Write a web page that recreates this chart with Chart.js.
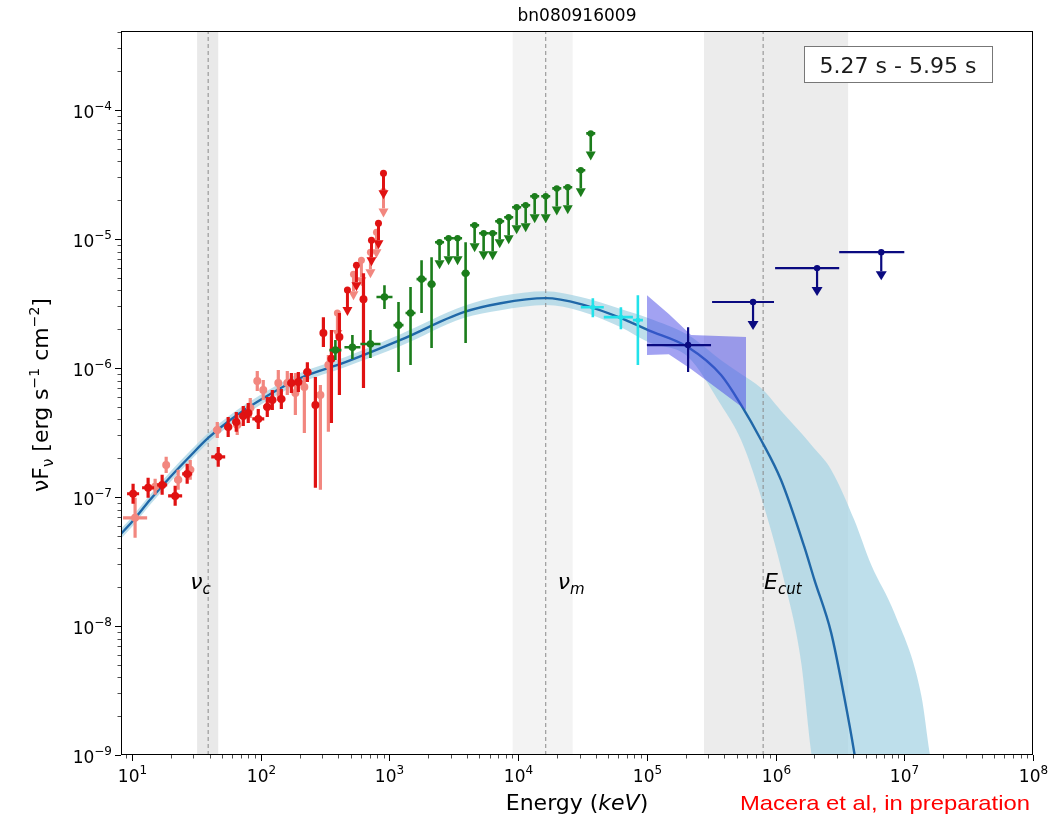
<!DOCTYPE html>
<html>
<head>
<style>
  body { margin: 0; background: #fff; }
  #wrap { width: 1057px; height: 824px; }
</style>
<script src="https://cdn.jsdelivr.net/npm/chart.js"></script>
</head>
<body>
<div id="wrap"><canvas id="sed" width="1057" height="824"></canvas></div>
<script>
// axis limits (keV / erg s^-1 cm^-2)
var xMin = 8.2, xMax = 1e8, yMin = 1e-9, yMax = 4.1e-4;

// best-fit model and its band
var modelE = [8.07, 10, 13.8, 19.8, 28.3, 39.0, 57.9, 99, 203, 455, 1219, 3770, 7310, 16370, 30650, 62800, 1.02e5, 2.09e5, 3.77e5, 5.39e5, 7.71e5, 1.10e6, 1.67e6, 2.0e6, 2.70e6, 3.41e6, 4.08e6, 4.63e6];
var modelF = [5.10e-8, 6.43e-8, 9.51e-8, 1.43e-7, 2.08e-7, 2.87e-7, 3.96e-7, 5.65e-7, 8.37e-7, 1.11e-6, 1.65e-6, 2.71e-6, 3.18e-6, 3.48e-6, 3.13e-6, 2.44e-6, 1.97e-6, 1.45e-6, 8.83e-7, 5.18e-7, 2.77e-7, 1.36e-7, 4.12e-8, 2.29e-8, 8.89e-9, 2.84e-9, 1.05e-9, 4.53e-10];
var bandE = [8.07, 10, 13.8, 19.8, 28.3, 39.0, 57.9, 99, 203, 455, 1219, 3770, 7310, 16370, 30650, 62800, 1.02e5, 2.09e5, 3.77e5, 5.39e5, 7.71e5, 1.16e6, 1.58e6, 1.89e6, 2.70e6, 4.08e6, 5.53e6, 8.35e6, 1.36e7, 1.57e7, 1.94e7];
var bandHi = [5.57e-8, 7.03e-8, 1.04e-7, 1.57e-7, 2.28e-7, 3.14e-7, 4.33e-7, 6.18e-7, 9.15e-7, 1.22e-6, 1.83e-6, 3.02e-6, 3.61e-6, 3.94e-6, 3.55e-6, 2.87e-6, 2.44e-6, 1.80e-6, 1.15e-6, 8.99e-7, 7.00e-7, 4.40e-7, 3.14e-7, 2.54e-7, 1.63e-7, 6.67e-8, 2.99e-8, 1.27e-8, 2.84e-9, 1.05e-9, 3.17e-10];
var bandLo = [4.67e-8, 5.88e-8, 8.71e-8, 1.31e-7, 1.91e-7, 2.63e-7, 3.62e-7, 5.18e-7, 7.65e-7, 1.02e-6, 1.48e-6, 2.44e-6, 2.81e-6, 3.08e-6, 2.76e-6, 2.07e-6, 1.59e-6, 1.22e-6, 5.18e-7, 2.77e-7, 1.00e-7, 2.29e-8, 5.21e-9, 1.05e-9, 1.56e-10, 3.1e-11, 1.3e-11, 5.1e-12, 2.1e-12, 2.1e-12, 2.1e-12];

// LAT butterfly
var bowE = [1.0e5, 1.48e5, 2.2e5, 5.89e5];
var bowHi = [3.67e-6, 2.62e-6, 1.80e-6, 1.74e-6];
var bowLo = [1.26e-6, 1.28e-6, 9.82e-7, 4.73e-7];

// characteristic energies (band low, line, band high) and label anchors
var markNames = ['c', 'm', 'cut'];
var markLo = [32.0, 9060, 2.78e5];
var markE = [39.0, 16370, 8.0e5];
var markHi = [46.7, 26500, 3.66e6];
var markLabelE = [28.3, 20300, 8.14e5];
var markLabelF = 1.95e-8;

// NaI (red)
var redE = [10.18, 13.32, 17.12, 21.61, 26.79, 46.7, 55.8, 64.5, 73.1, 79.9, 95.6, 112.3, 122.9, 144.4, 172.8, 195.8, 230.1, 265.6, 306.5, 353.8, 408.2, 627.9];
var redF = [1.06e-7, 1.18e-7, 1.24e-7, 1.02e-7, 1.51e-7, 2.05e-7, 3.49e-7, 3.82e-7, 4.25e-7, 4.49e-7, 4.03e-7, 4.99e-7, 5.65e-7, 5.75e-7, 7.65e-7, 7.79e-7, 9.31e-7, 5.18e-7, 1.87e-6, 1.18e-6, 1.74e-6, 3.42e-6];
var redElo = [9.14, 11.96, 15.65, 19.05, 24.49, 41.2, 52.0, 60.0, 68.0, 75.8, 85.9, 104.5, 114.4, 134.3, 160.7, 185.6, 214.1, 251.6, 290.4, 335, 386.9, 594];
var redEhi = [11.34, 14.83, 18.73, 24.49, 29.31, 52.9, 60.0, 69.3, 78.5, 85.9, 106.4, 120.8, 132.0, 155.2, 185.6, 210.4, 247.2, 280.2, 323.4, 373.3, 430.8, 662.4];
var redFlo = [8.86e-8, 9.86e-8, 1.04e-7, 8.55e-8, 1.265e-7, 1.713e-7, 2.92e-7, 3.20e-7, 3.56e-7, 3.75e-7, 3.37e-7, 4.18e-7, 4.73e-7, 4.82e-7, 6.41e-7, 6.52e-7, 7.79e-7, 1.178e-7, 1.456e-6, 3.75e-7, 6.18e-7, 7.0e-7];
var redFhi = [1.265e-7, 1.41e-7, 1.486e-7, 1.222e-7, 1.807e-7, 2.447e-7, 4.18e-7, 4.56e-7, 5.08e-7, 5.36e-7, 4.82e-7, 5.97e-7, 6.76e-7, 6.88e-7, 9.15e-7, 9.31e-7, 1.11e-6, 8.51e-7, 2.48e-6, 1.968e-6, 2.67e-6, 5.43e-6];
var redUlE = [471.2, 553.6, 724.4, 821.2, 898.1];
var redUlF = [4.02e-6, 6.27e-6, 9.79e-6, 1.325e-5, 3.23e-5];

// NaI (light red)
var salE = [10.55, 15.1, 18.4, 22.8, 28.3, 45.9, 65.6, 82.8, 93.9, 104.5, 136.8, 160.7, 185.6, 218, 290.4, 335];
var salF = [6.90e-8, 1.20e-7, 1.774e-7, 1.358e-7, 1.63e-7, 3.31e-7, 3.62e-7, 4.90e-7, 7.93e-7, 6.76e-7, 7.65e-7, 7.65e-7, 6.41e-7, 7.13e-7, 6.18e-7, 1.054e-6];
var salElo = [8.51, 14.06, 17.42, 21.2, 26.3, 42.7, 61.1, 77.1, 88.9, 99.1, 129.6, 152.4, 175.8, 206.6, 275.3, 317.7];
var salEhi = [13.09, 16.2, 19.41, 24.49, 30.4, 49.3, 70.5, 88.9, 99.1, 110.4, 144.4, 169.7, 195.8, 230.1, 306.5, 353.8];
var salFlo = [4.83e-8, 1.04e-7, 1.538e-7, 1.138e-7, 1.358e-7, 2.87e-7, 3.03e-7, 4.10e-7, 6.64e-7, 5.65e-7, 5.86e-7, 6.18e-7, 4.33e-7, 3.14e-7, 1.138e-7, 3.20e-7];
var salFhi = [9.86e-8, 1.384e-7, 2.048e-7, 1.63e-7, 1.94e-7, 3.82e-7, 4.33e-7, 5.86e-7, 9.48e-7, 8.07e-7, 9.66e-7, 9.48e-7, 9.15e-7, 8.51e-7, 7.38e-7, 1.26e-6];
var salUlE = [393.6, 525, 605, 711, 792, 898];
var salUlF = [2.67e-6, 5.34e-6, 6.86e-6, 7.91e-6, 1.13e-5, 2.34e-5];

// BGO (green)
var bgoE = [380, 515, 711, 914, 1175, 1457, 1775, 2123, 3903];
var bgoF = [1.377e-6, 1.45e-6, 1.535e-6, 3.55e-6, 2.15e-6, 2.67e-6, 4.89e-6, 4.47e-6, 5.43e-6];
var bgoElo = [341, 446.6, 594, 792, 1074, 1332, 1622, 1976, 3631];
var bgoEhi = [423, 594, 851, 1055, 1285, 1593, 1941, 2281, 4195];
var bgoFlo = [1.153e-6, 1.175e-6, 1.195e-6, 2.87e-6, 9.31e-7, 1.054e-6, 2.67e-6, 1.43e-6, 1.56e-6];
var bgoFhi = [1.65e-6, 1.80e-6, 1.968e-6, 4.39e-6, 3.25e-6, 4.24e-6, 6.86e-6, 7.23e-6, 9.44e-6];
var bgoUlE = [2449, 2877, 3381, 4587, 5388, 6332, 7180, 8436, 9726, 11430, 13430, 16370, 19940, 24270, 30650, 36620];
var bgoUlF = [9.44e-6, 1.014e-5, 1.014e-5, 1.279e-5, 1.109e-5, 1.109e-5, 1.374e-5, 1.476e-5, 1.763e-5, 1.83e-5, 2.145e-5, 2.145e-5, 2.47e-5, 2.52e-5, 3.41e-5, 6.59e-5];
var bgoUlElo = [2259, 2654, 3119, 4232, 4971, 5841, 6624, 7782, 8972, 10544, 12389, 15101, 18395, 22390, 28275, 33782];
var bgoUlEhi = [2655, 3119, 3665, 4972, 5841, 6864, 7783, 9145, 10543, 12390, 14558, 17745, 21615, 26309, 33225, 39696];

// LLE (cyan)
var lleE = [38020, 62800, 85100];
var lleF = [2.96e-6, 2.48e-6, 2.35e-6];
var lleElo = [30650, 46240, 77800];
var lleEhi = [46240, 77800, 93100];
var lleFlo = [2.48e-6, 2.0e-6, 1.054e-6];
var lleFhi = [3.48e-6, 2.96e-6, 3.67e-6];

// LAT (navy)
var latE = [2.09e5];
var latF = [1.507e-6];
var latElo = [1.0e5];
var latEhi = [3.15e5];
var latFlo = [9.31e-7];
var latFhi = [2.07e-6];
var latUlE = [6.68e5, 2.10e6, 6.62e6];
var latUlF = [3.25e-6, 5.95e-6, 7.91e-6];
var latUlElo = [3.21e5, 9.91e5, 3.12e6];
var latUlEhi = [9.72e5, 3.12e6, 1.0e7];

var FONT = '"DejaVu Sans", "Liberation Sans", sans-serif';

function pts(E, F, El, Eh, Fl, Fh) {
  return E.map(function(e, i) {
    return { x: e, y: F[i], xl: El ? El[i] : null, xh: Eh ? Eh[i] : null, yl: Fl ? Fl[i] : null, yh: Fh ? Fh[i] : null };
  });
}
function xy(E, F) {
  return E.map(function(e, i) { return { x: e, y: F[i] }; });
}

// draw a run of text pieces: [text, size, style, dy]
function rich(ctx, parts, x, y, align) {
  var w = 0;
  parts.forEach(function(p) {
    ctx.font = (p[2] || '') + ' ' + p[1] + 'px ' + FONT;
    p.w = ctx.measureText(p[0]).width;
    w += p.w;
  });
  var cx = align === 'center' ? x - w / 2 : (align === 'right' ? x - w : x);
  parts.forEach(function(p) {
    ctx.font = (p[2] || '') + ' ' + p[1] + 'px ' + FONT;
    ctx.fillText(p[0], cx, y + (p[3] || 0));
    cx += p.w;
  });
}

function expText(k) {
  return String(k).replace('-', '\u2212');
}

var shadePlugin = {
  id: 'shade',
  beforeDatasetsDraw: function(chart) {
    var ctx = chart.ctx, xs = chart.scales.x, a = chart.chartArea;
    var shades = ['#e9e9e9', '#f3f3f3', '#ececec'];
    ctx.save();
    markLo.forEach(function(lo, i) {
      var x0 = Math.max(a.left, xs.getPixelForValue(lo));
      var x1 = Math.min(a.right, xs.getPixelForValue(markHi[i]));
      ctx.fillStyle = shades[i];
      ctx.fillRect(x0, a.top, x1 - x0, a.bottom - a.top);
    });
    ctx.restore();
  }
};

var errorBars = {
  id: 'errorBars',
  afterDatasetDraw: function(chart, args) {
    var ds = chart.data.datasets[args.index];
    if (!ds.bars) return;
    var ctx = chart.ctx, xs = chart.scales.x, ys = chart.scales.y, a = chart.chartArea, b = ds.bars;
    ctx.save();
    ctx.beginPath();
    ctx.rect(a.left, a.top, a.right - a.left, a.bottom - a.top);
    ctx.clip();
    ctx.strokeStyle = b.color;
    ctx.fillStyle = b.color;
    ctx.lineWidth = b.width;
    ds.data.forEach(function(p) {
      var px = xs.getPixelForValue(p.x), py = ys.getPixelForValue(p.y);
      ctx.beginPath();
      if (p.xl != null) {
        ctx.moveTo(xs.getPixelForValue(p.xl), py);
        ctx.lineTo(xs.getPixelForValue(p.xh), py);
      }
      if (p.yl != null) {
        ctx.moveTo(px, ys.getPixelForValue(p.yl));
        ctx.lineTo(px, ys.getPixelForValue(p.yh));
      }
      if (b.arrow) {
        ctx.moveTo(px, py);
        ctx.lineTo(px, py + b.arrow - b.head);
      }
      ctx.stroke();
      if (b.arrow) {
        ctx.beginPath();
        ctx.moveTo(px - b.half, py + b.arrow - b.head);
        ctx.lineTo(px + b.half, py + b.arrow - b.head);
        ctx.lineTo(px, py + b.arrow);
        ctx.closePath();
        ctx.fill();
      }
      if (b.dot) {
        ctx.beginPath();
        ctx.arc(px, py, b.dot, 0, Math.PI * 2);
        ctx.fill();
      }
    });
    ctx.restore();
  }
};

var decor = {
  id: 'decor',
  afterDraw: function(chart) {
    var ctx = chart.ctx, xs = chart.scales.x, ys = chart.scales.y, a = chart.chartArea;
    ctx.save();
    ctx.fillStyle = '#000';
    ctx.strokeStyle = '#000';
    ctx.textBaseline = 'alphabetic';

    // frame
    ctx.lineWidth = 1;
    ctx.strokeRect(Math.round(a.left) + 0.5, Math.round(a.top) + 0.5, Math.round(a.right - a.left) - 1, Math.round(a.bottom - a.top) - 1);

    // x ticks
    for (var k = 0; k <= 8; k++) {
      for (var m = 1; m <= 9; m++) {
        var v = m * Math.pow(10, k);
        if (v < xMin * 0.999 || v > xMax * 1.001) continue;
        var px = Math.round(xs.getPixelForValue(v)) + 0.5;
        ctx.lineWidth = m === 1 ? 1 : 0.7;
        ctx.beginPath();
        ctx.moveTo(px, a.bottom);
        ctx.lineTo(px, a.bottom + (m === 1 ? 6 : 3.5));
        ctx.stroke();
        if (m === 1) rich(ctx, [['10', 17], [expText(k), 12, '', -8]], px, a.bottom + 27, 'center');
      }
    }
    // y ticks
    for (var k2 = -10; k2 <= -3; k2++) {
      for (var m2 = 1; m2 <= 9; m2++) {
        var v2 = m2 * Math.pow(10, k2);
        if (v2 < yMin * 0.999 || v2 > yMax * 1.001) continue;
        var py = Math.round(ys.getPixelForValue(v2)) + 0.5;
        ctx.lineWidth = m2 === 1 ? 1 : 0.7;
        ctx.beginPath();
        ctx.moveTo(a.left, py);
        ctx.lineTo(a.left - (m2 === 1 ? 6 : 3.5), py);
        ctx.stroke();
        if (m2 === 1) rich(ctx, [['10', 17], [expText(k2), 12, '', -8]], a.left - 9, py + 7, 'right');
      }
    }

    // characteristic energy labels
    var mid = (a.left + a.right) / 2;
    markNames.forEach(function(n, i) {
      var lx = xs.getPixelForValue(markLabelE[i]);
      var ly = ys.getPixelForValue(markLabelF);
      var head = n === 'cut' ? 'E' : '\u03bd';
      rich(ctx, [[head, 22, 'italic'], [n, 15, 'italic', 5]], lx, ly, 'left');
    });

    // title
    rich(ctx, [['bn080916009', 17]], mid, 21, 'center');

    // axis titles
    rich(ctx, [['Energy (', 22], ['keV', 22, 'italic'], [')', 22]], mid, 810, 'center');
    ctx.save();
    ctx.translate(48, (a.top + a.bottom) / 2 + 2);
    ctx.rotate(-Math.PI / 2);
    rich(ctx, [['\u03bdF', 22], ['\u03bd', 15, '', 5], [' [erg s', 22], ['\u22121', 14, '', -9], [' cm', 22], ['\u22122', 14, '', -9], [']', 22]], 0, 0, 'center');
    ctx.restore();

    // time interval box
    var bx = a.right - 229, by = a.top + 15, bw = 188, bh = 36;
    ctx.fillStyle = '#fff';
    ctx.fillRect(bx, by, bw, bh);
    ctx.strokeStyle = '#777';
    ctx.lineWidth = 1;
    ctx.strokeRect(bx + 0.5, by + 0.5, bw, bh);
    ctx.fillStyle = '#1a1a1a';
    rich(ctx, [['5.27 s - 5.95 s', 22]], bx + bw / 2, by + 27, 'center');

    // note
    ctx.fillStyle = '#ff0000';
    ctx.font = '21px "Liberation Sans Narrow", "Liberation Sans", sans-serif';
    var note = 'Macera et al, in preparation';
    var nw = ctx.measureText(note).width;
    ctx.save();
    ctx.translate(740, 810);
    ctx.scale(290 / nw, 1);
    ctx.fillText(note, 0, 0);
    ctx.restore();

    ctx.restore();
  }
};

function markLine(e) {
  return {
    type: 'line', data: [{ x: e, y: yMin }, { x: e, y: yMax }],
    borderColor: '#8a8a8a', borderWidth: 1, borderDash: [4, 3], pointRadius: 0, fill: false, order: 90
  };
}

var datasets = [
  { type: 'line', data: xy(bandE, bandHi), borderWidth: 0, pointRadius: 0, cubicInterpolationMode: 'monotone',
    fill: '+1', backgroundColor: 'rgba(168,212,228,0.75)', order: 100 },
  { type: 'line', data: xy(bandE, bandLo), borderWidth: 0, pointRadius: 0, cubicInterpolationMode: 'monotone',
    fill: false, order: 99 },
  markLine(markE[0]), markLine(markE[1]), markLine(markE[2]),
  { type: 'line', data: xy(modelE, modelF), borderColor: '#2068a8', borderWidth: 2.4, pointRadius: 0,
    cubicInterpolationMode: 'monotone', fill: false, order: 80 },
  { type: 'line', data: xy(bowE, bowHi), borderWidth: 0, pointRadius: 0, fill: '+1',
    backgroundColor: 'rgba(70,70,230,0.5)', order: 70 },
  { type: 'line', data: xy(bowE, bowLo), borderWidth: 0, pointRadius: 0, fill: false, order: 69 },

  { data: pts(salE, salF, salElo, salEhi, salFlo, salFhi), pointRadius: 0,
    bars: { color: '#f2877f', width: 3.2, dot: 4 }, order: 20 },
  { data: pts(salUlE, salUlF), pointRadius: 0,
    bars: { color: '#f2877f', width: 3, arrow: 26, head: 9, half: 5, dot: 3.5 }, order: 19 },
  { data: pts(redE, redF, redElo, redEhi, redFlo, redFhi), pointRadius: 0,
    bars: { color: '#e01212', width: 3.2, dot: 4 }, order: 18 },
  { data: pts(redUlE, redUlF), pointRadius: 0,
    bars: { color: '#e01212', width: 3, arrow: 26, head: 9, half: 5, dot: 3.5 }, order: 17 },
  { data: pts(bgoE, bgoF, bgoElo, bgoEhi, bgoFlo, bgoFhi), pointRadius: 0,
    bars: { color: '#1b7d1b', width: 2.6, dot: 3.8 }, order: 16 },
  { data: pts(bgoUlE, bgoUlF, bgoUlElo, bgoUlEhi), pointRadius: 0,
    bars: { color: '#1b7d1b', width: 2.6, arrow: 27, head: 9, half: 5, dot: 3.2 }, order: 15 },
  { data: pts(lleE, lleF, lleElo, lleEhi, lleFlo, lleFhi), pointRadius: 0,
    bars: { color: '#22e2ea', width: 2.6, dot: 2.5 }, order: 14 },
  { data: pts(latE, latF, latElo, latEhi, latFlo, latFhi), pointRadius: 0,
    bars: { color: '#0a0a80', width: 2.2, dot: 3.2 }, order: 13 },
  { data: pts(latUlE, latUlF, latUlElo, latUlEhi), pointRadius: 0,
    bars: { color: '#0a0a80', width: 2.2, arrow: 28, head: 9, half: 5.5, dot: 3.2 }, order: 12 }
];

new Chart(document.getElementById('sed'), {
  type: 'scatter',
  data: { datasets: datasets },
  options: {
    responsive: false,
    animation: false,
    layout: { padding: { top: 31, right: 24, left: 0, bottom: 0 } },
    plugins: { legend: { display: false }, tooltip: { enabled: false }, title: { display: false } },
    scales: {
      x: {
        type: 'logarithmic', min: xMin, max: xMax,
        ticks: { display: false }, grid: { display: false }, border: { display: false },
        afterFit: function(s) { s.height = 69; }
      },
      y: {
        type: 'logarithmic', min: yMin, max: yMax,
        ticks: { display: false }, grid: { display: false }, border: { display: false },
        afterFit: function(s) { s.width = 121; }
      }
    }
  },
  plugins: [shadePlugin, errorBars, decor]
});
</script>
</body>
</html>
